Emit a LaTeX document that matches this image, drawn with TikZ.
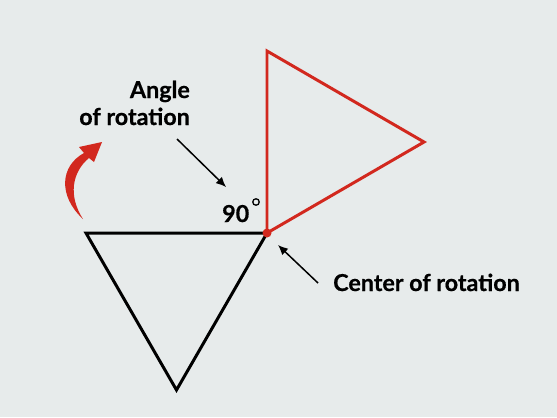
\documentclass[tikz,border=0pt]{standalone}
\usepackage{fontspec}
\setmainfont{Lato}
\newfontfamily\lblfont[BoldFeatures={FakeBold=0.6}]{Lato}
\usetikzlibrary{arrows.meta}
\definecolor{bg}{HTML}{E7EBEB}
\definecolor{rotred}{HTML}{D2281E}
\tikzset{
  lbl/.style={font=\lblfont\fontsize{23.4}{27}\selectfont\bfseries, inner sep=0pt, text=black},
  pointer/.style={line width=1.5pt, -{Latex[length=10pt,width=9pt]}},
  tri/.style={line width=3pt, line join=miter},
}
\begin{document}
\begin{tikzpicture}[x=1bp,y=-1bp]
\fill[bg] (0,0) rectangle (557,417);
\useasboundingbox (0,0) rectangle (557,417);
% triangles
\coordinate (C) at (267,233);
\coordinate (A) at (86,233);
\coordinate (B) at (176.5,390);
\coordinate (R1) at (267,51);
\coordinate (R2) at (424,142);
\draw[tri, black] (A) -- (C) -- (B) -- cycle;
\draw[tri, rotred] (C) -- (R1) -- (R2) -- cycle;
\fill[rotred] (C) circle (4.5);
% labels
\node[lbl, anchor=base east] (ang1) at (190,98) {Angle};
\node[lbl, anchor=base east] (ang2) at (190,125) {of rotation};
\node[lbl, anchor=base west] (deg) at (222,222) {90};
\node[circle, draw=black, line width=1.3pt, minimum size=6.5pt, inner sep=0pt] (degsym) at (256,202) {};
\node[lbl, anchor=base west] (ctr) at (333,291) {Center of rotation};
% pointers
\coordinate (p1) at (177,139);
\coordinate (p2) at (226,187);
\draw[pointer] (p1) -- (p2);
\coordinate (q1) at (318,283);
\coordinate (q2) at (278,245);
\draw[pointer] (q1) -- (q2);
% red curved rotation arrow
\fill[rotred] (83,219) .. controls (58,196) and (60,166) .. (84,153)
  -- (79,147) -- (102,142) -- (94,162) -- (89,158)
  .. controls (72,172) and (68,196) .. (83,219) -- cycle;
\end{tikzpicture}
\end{document}
